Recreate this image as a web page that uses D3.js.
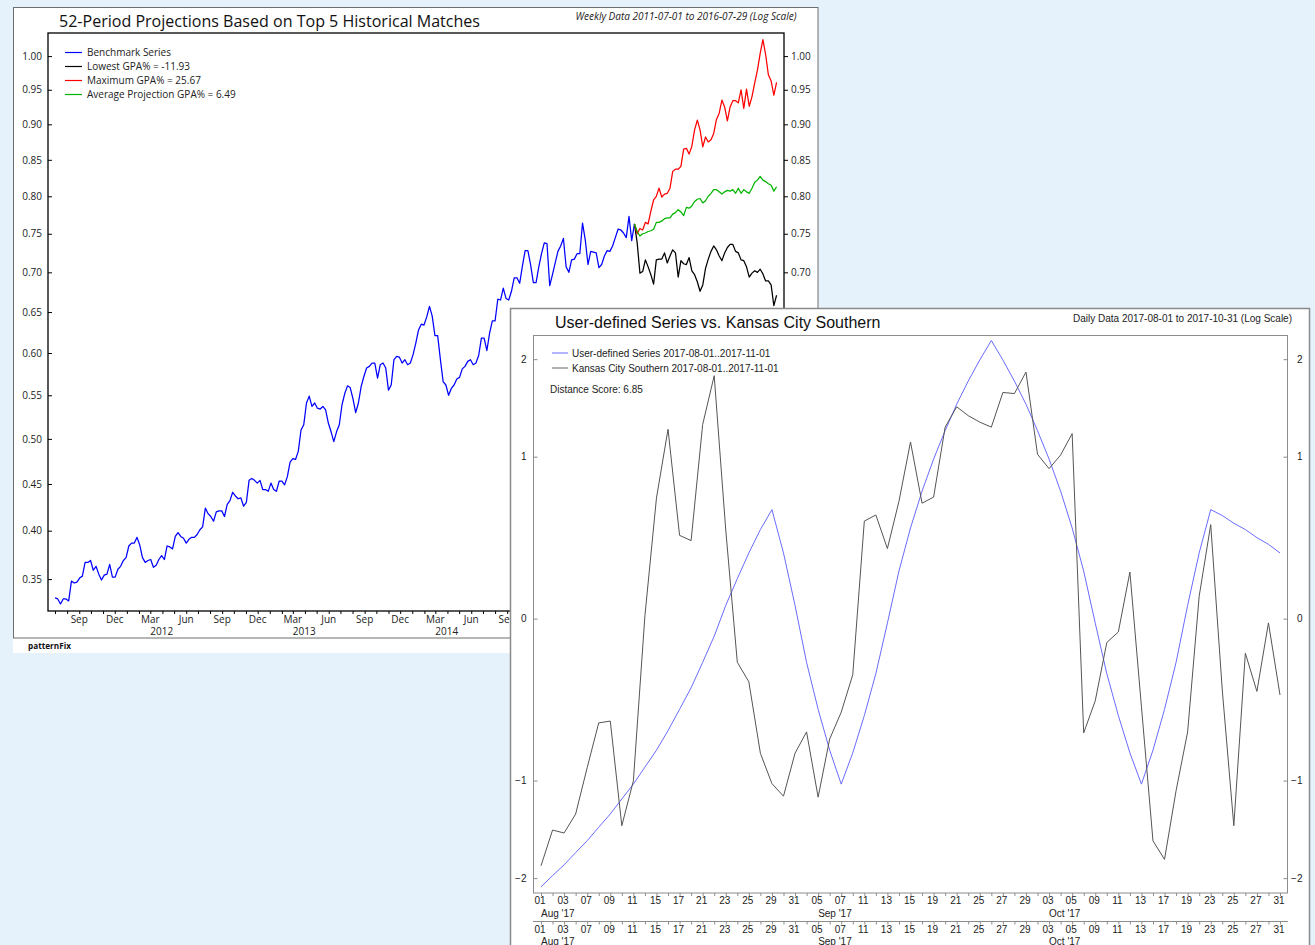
<!DOCTYPE html>
<html>
<head>
<meta charset="utf-8">
<script src="https://cdnjs.cloudflare.com/ajax/libs/d3/7.8.5/d3.min.js"></script>
<style>
  body { margin: 0; background: #e6f2fb; }
  svg { display: block; }
</style>
</head>
<body>
<svg id="chart" width="1315" height="945"></svg>
<script>
// weekly benchmark, first point 2011-07-01
const benchStart = '2011-07-01';
const benchmark = [
  0.331, 0.330, 0.325, 0.330, 0.330, 0.328, 0.348, 0.346, 0.347, 0.351,
  0.353, 0.367, 0.367, 0.369, 0.359, 0.363, 0.355, 0.349, 0.354, 0.355,
  0.365, 0.352, 0.352, 0.360, 0.363, 0.369, 0.372, 0.384, 0.387, 0.387,
  0.393, 0.385, 0.372, 0.367, 0.369, 0.370, 0.362, 0.364, 0.370, 0.374,
  0.370, 0.384, 0.383, 0.381, 0.394, 0.398, 0.394, 0.392, 0.387, 0.391,
  0.393, 0.393, 0.396, 0.401, 0.404, 0.424, 0.418, 0.415, 0.410, 0.420,
  0.421, 0.421, 0.415, 0.428, 0.432, 0.441, 0.437, 0.434, 0.435, 0.426,
  0.430, 0.454, 0.456, 0.454, 0.451, 0.454, 0.444, 0.444, 0.442, 0.451,
  0.444, 0.442, 0.453, 0.453, 0.449, 0.458, 0.474, 0.478, 0.477, 0.486,
  0.510, 0.516, 0.541, 0.549, 0.537, 0.541, 0.535, 0.534, 0.537, 0.533,
  0.518, 0.508, 0.497, 0.508, 0.516, 0.539, 0.552, 0.561, 0.559, 0.546,
  0.530, 0.541, 0.560, 0.572, 0.582, 0.584, 0.588, 0.588, 0.570, 0.586,
  0.588, 0.582, 0.556, 0.562, 0.592, 0.596, 0.595, 0.588, 0.592, 0.586,
  0.588, 0.598, 0.612, 0.628, 0.635, 0.634, 0.644, 0.657, 0.645, 0.621,
  0.621, 0.592, 0.566, 0.562, 0.550, 0.558, 0.562, 0.569, 0.571, 0.581,
  0.584, 0.590, 0.592, 0.586, 0.588, 0.597, 0.618, 0.618, 0.603, 0.624,
  0.639, 0.639, 0.666, 0.665, 0.680, 0.667, 0.665, 0.676, 0.693, 0.693,
  0.686, 0.708, 0.728, 0.728, 0.710, 0.687, 0.687, 0.707, 0.724, 0.738,
  0.737, 0.683, 0.697, 0.712, 0.727, 0.734, 0.744, 0.707, 0.700, 0.716,
  0.717, 0.724, 0.724, 0.764, 0.742, 0.710, 0.727, 0.726, 0.725, 0.706,
  0.710, 0.721, 0.728, 0.727, 0.734, 0.745, 0.756, 0.755, 0.751, 0.745,
  0.773, 0.741, 0.763
];
// 52 weekly projections after the last benchmark week
const lowest = [
  0.738, 0.699, 0.701, 0.716, 0.707, 0.697, 0.685, 0.716, 0.717, 0.717,
  0.725, 0.712, 0.721, 0.729, 0.725, 0.694, 0.715, 0.711, 0.710, 0.719,
  0.702, 0.697, 0.688, 0.676, 0.684, 0.705, 0.717, 0.727, 0.734, 0.729,
  0.721, 0.715, 0.725, 0.732, 0.736, 0.736, 0.727, 0.725, 0.716, 0.715,
  0.707, 0.694, 0.699, 0.702, 0.700, 0.704, 0.698, 0.689, 0.689, 0.684,
  0.658, 0.671
];
const maximum = [
  0.750, 0.757, 0.755, 0.765, 0.763, 0.780, 0.795, 0.800, 0.811, 0.799,
  0.803, 0.804, 0.811, 0.834, 0.837, 0.837, 0.841, 0.865, 0.866, 0.858,
  0.869, 0.892, 0.906, 0.892, 0.868, 0.882, 0.875, 0.878, 0.887, 0.907,
  0.916, 0.935, 0.925, 0.905, 0.925, 0.934, 0.934, 0.931, 0.950, 0.923,
  0.951, 0.926, 0.940, 0.960, 0.979, 1.004, 1.025, 1.002, 0.972, 0.963,
  0.942, 0.961
];
const average = [
  0.753, 0.747, 0.750, 0.751, 0.753, 0.754, 0.756, 0.765, 0.765, 0.767,
  0.770, 0.771, 0.771, 0.776, 0.778, 0.782, 0.779, 0.774, 0.785, 0.784,
  0.787, 0.793, 0.796, 0.797, 0.791, 0.794, 0.800, 0.804, 0.809, 0.809,
  0.806, 0.803, 0.806, 0.808, 0.807, 0.809, 0.804, 0.811, 0.804, 0.809,
  0.806, 0.804, 0.811, 0.819, 0.822, 0.827, 0.822, 0.820, 0.817, 0.815,
  0.807, 0.813
];
const legend1Labels = ['Benchmark Series', 'Lowest GPA% = -11.93', 'Maximum GPA% = 25.67', 'Average Projection GPA% = 6.49'];
const legend1Colors = ['#0000ff', '#000000', '#ff0000', '#00b400'];
const yTicks1 = [0.35, 0.40, 0.45, 0.50, 0.55, 0.60, 0.65, 0.70, 0.75, 0.80, 0.85, 0.90, 0.95, 1.00];

// daily trading days for the second chart
const tradingDays = [
  '2017-08-01', '2017-08-02', '2017-08-03', '2017-08-04', '2017-08-07', '2017-08-08', '2017-08-09',
  '2017-08-10', '2017-08-11', '2017-08-14', '2017-08-15', '2017-08-16', '2017-08-17', '2017-08-18',
  '2017-08-21', '2017-08-22', '2017-08-23', '2017-08-24', '2017-08-25', '2017-08-28', '2017-08-29',
  '2017-08-30', '2017-08-31', '2017-09-01', '2017-09-05', '2017-09-06', '2017-09-07', '2017-09-08',
  '2017-09-11', '2017-09-12', '2017-09-13', '2017-09-14', '2017-09-15', '2017-09-18', '2017-09-19',
  '2017-09-20', '2017-09-21', '2017-09-22', '2017-09-25', '2017-09-26', '2017-09-27', '2017-09-28',
  '2017-09-29', '2017-10-02', '2017-10-03', '2017-10-04', '2017-10-05', '2017-10-06', '2017-10-09',
  '2017-10-10', '2017-10-11', '2017-10-12', '2017-10-13', '2017-10-16', '2017-10-17', '2017-10-18',
  '2017-10-19', '2017-10-20', '2017-10-23', '2017-10-24', '2017-10-25', '2017-10-26', '2017-10-27',
  '2017-10-30', '2017-10-31'
];
const userSeries = [
  -2.11, -1.97, -1.84, -1.70, -1.57, -1.43, -1.30, -1.16, -1.03, -0.89,
  -0.76, -0.62, -0.48, -0.35, -0.21, -0.08, 0.06, 0.19, 0.33, 0.47,
  0.60, 0.33, 0.06, -0.21, -0.48, -0.76, -1.03, -0.78, -0.52, -0.27,
  -0.02, 0.23, 0.48, 0.73, 0.98, 1.23, 1.49, 1.74, 1.99, 2.24,
  1.99, 1.74, 1.49, 1.23, 0.98, 0.73, 0.48, 0.23, -0.02, -0.27,
  -0.52, -0.78, -1.03, -0.76, -0.48, -0.21, 0.06, 0.33, 0.60, 0.56,
  0.51, 0.47, 0.42, 0.38, 0.33
];
const ksuSeries = [
  -1.851, -1.459, -1.489, -1.300, -0.894, -0.568, -0.556, -1.415, -1.002, 0.013,
  0.681, 1.243, 0.434, 0.402, 1.287, 1.802, 0.467, -0.209, -0.316, -0.783,
  -1.026, -1.135, -0.783, -0.629, -1.144, -0.679, -0.498, -0.276, 0.524, 0.564,
  0.355, 0.657, 1.127, 0.644, 0.687, 1.263, 1.463, 1.374, 1.311, 1.263,
  1.614, 1.602, 1.844, 1.020, 0.902, 1.014, 1.203, -0.636, -0.427, -0.110,
  -0.060, 0.225, -0.464, -1.571, -1.777, -1.087, -0.629, 0.103, 0.501, -0.363,
  -1.415, -0.163, -0.371, -0.019, -0.392
];
const legend2Labels = ['User-defined Series 2017-08-01..2017-11-01', 'Kansas City Southern 2017-08-01..2017-11-01'];
const legend2Colors = ['#6b6bff', '#666666'];
const yTicks2 = [-2, -1, 0, 1, 2];

const font1 = "'Open Sans', 'Noto Sans', sans-serif";
const font2 = "'Liberation Sans', Arial, sans-serif";
const parseDate = d3.timeParse('%Y-%m-%d');
const svg = d3.select('#chart');

// the second panel sits on top of the first one from here
const panel2 = { x: 510, y: 308 };

// ---------- chart 1 : projections ----------
const x1 = d3.scaleTime()
  .domain([parseDate('2011-06-13'), parseDate('2016-08-10')])
  .range([48, 784]);
const y1 = d3.scaleSymlog().constant(1).domain([0.318, 1.035]).range([611, 33]);

const start = parseDate(benchStart);
const benchPts = benchmark.map((v, i) => ({ date: d3.timeDay.offset(start, 7 * i), value: v }));
const last = benchPts[benchPts.length - 1];
const projPts = arr => [last].concat(arr.map((v, i) => ({ date: d3.timeDay.offset(last.date, 7 * (i + 1)), value: v })));

const c1 = svg.append('g').attr('class', 'chart1');

c1.append('rect')
  .attr('x', 13).attr('y', 7).attr('width', 805).attr('height', 646)
  .attr('fill', '#ffffff');
c1.append('rect')
  .attr('x', 13.5).attr('y', 7.5).attr('width', 804.5).attr('height', 630.5)
  .attr('fill', 'none').attr('stroke', '#6e6e6e').attr('stroke-width', 1);

c1.append('text')
  .attr('x', 59).attr('y', 27)
  .attr('font-family', font1).attr('font-size', 16)
  .attr('textLength', 421).attr('lengthAdjust', 'spacingAndGlyphs')
  .attr('fill', '#111')
  .text('52-Period Projections Based on Top 5 Historical Matches');

c1.append('text')
  .attr('x', 796.5).attr('y', 19.5)
  .attr('text-anchor', 'end')
  .attr('font-family', font1).attr('font-size', 10).attr('font-style', 'italic')
  .attr('fill', '#222')
  .text('Weekly Data 2011-07-01 to 2016-07-29 (Log Scale)');

const line1 = d3.line()
  .x(function(d) { return x1(d.date); })
  .y(function(d) { return y1(d.value); });

const series1 = [
  { pts: benchPts, color: legend1Colors[0] },
  { pts: projPts(lowest), color: legend1Colors[1] },
  { pts: projPts(maximum), color: legend1Colors[2] },
  { pts: projPts(average), color: legend1Colors[3] }
];

c1.selectAll('.series')
  .data(series1)
  .enter().append('path')
  .attr('class', 'series')
  .attr('fill', 'none')
  .attr('stroke', d => d.color)
  .attr('stroke-width', 1.25)
  .attr('stroke-linejoin', 'round')
  .attr('d', d => line1(d.pts));

c1.append('rect')
  .attr('x', 48).attr('y', 33).attr('width', 736).attr('height', 578)
  .attr('fill', 'none').attr('stroke', '#000').attr('stroke-width', 1.3);

const yLeft1 = c1.append('g')
  .attr('transform', 'translate(48,0)')
  .call(d3.axisLeft(y1).tickValues(yTicks1).tickFormat(d3.format('.2f')).tickSize(-4).tickPadding(6));
// labels lower down on the right are covered by the second panel
const yRight1 = c1.append('g')
  .attr('transform', 'translate(784,0)')
  .call(d3.axisRight(y1).tickValues(yTicks1.filter(v => y1(v) < panel2.y - 4))
    .tickFormat(d3.format('.2f')).tickSize(4).tickPadding(3));

const months = d3.timeMonth.range(x1.domain()[0], x1.domain()[1]);
const xAxis1 = c1.append('g')
  .attr('transform', 'translate(0,611)')
  .call(d3.axisBottom(x1).tickValues(months).tickSize(3).tickFormat(''));

[yLeft1, yRight1, xAxis1].forEach(function(g) {
  g.select('.domain').remove();
  g.selectAll('line').attr('stroke', '#000');
  g.selectAll('text').attr('font-family', font1).attr('font-size', 10).attr('fill', '#222');
});

const visible = d => x1(d) < panel2.x;
const quarters = months.filter(d => [2, 5, 8, 11].includes(d.getMonth()) && visible(d));
c1.selectAll('.mlabel')
  .data(quarters)
  .enter().append('text')
  .attr('class', 'mlabel')
  .attr('x', d => x1(d)).attr('y', 622.5)
  .attr('text-anchor', 'middle')
  .attr('font-family', font1).attr('font-size', 10).attr('fill', '#222')
  .text(d3.timeFormat('%b'));

c1.selectAll('.ylabel')
  .data(months.filter(d => d.getMonth() === 2 && visible(d)))
  .enter().append('text')
  .attr('class', 'ylabel')
  .attr('x', d => x1(d)).attr('y', 635)
  .attr('font-family', font1).attr('font-size', 10).attr('fill', '#222')
  .text(d3.timeFormat('%Y'));

const leg1 = c1.selectAll('.leg1')
  .data(legend1Labels)
  .enter().append('g')
  .attr('class', 'leg1')
  .attr('transform', (d, i) => 'translate(65,' + (52.5 + i * 14) + ')');
leg1.append('line')
  .attr('x1', 0).attr('x2', 17)
  .attr('stroke', (d, i) => legend1Colors[i]).attr('stroke-width', 1.2);
leg1.append('text')
  .attr('x', 22).attr('y', 3.6)
  .attr('font-family', font1).attr('font-size', 10).attr('fill', '#222')
  .text(d => d);

c1.append('text')
  .attr('x', 28).attr('y', 648.5)
  .attr('font-family', font1).attr('font-size', 8.2).attr('font-weight', 'bold')
  .attr('fill', '#111')
  .text('patternFix');

// ---------- chart 2 : user-defined vs KSU ----------
const x2 = d3.scalePoint().domain(tradingDays).range([541, 1280]);
const y2 = d3.scaleSymlog().constant(1.1).domain([-2.19, 2.314]).range([893, 335]);

const c2 = svg.append('g').attr('class', 'chart2');

c2.append('rect')
  .attr('x', panel2.x + 0.5).attr('y', panel2.y + 0.5).attr('width', 799).attr('height', 660)
  .attr('fill', '#ffffff').attr('stroke', '#8a8a8a').attr('stroke-width', 1.5);

c2.append('text')
  .attr('x', 555).attr('y', 328)
  .attr('font-family', font2).attr('font-size', 16).attr('fill', '#111')
  .text('User-defined Series vs. Kansas City Southern');

c2.append('text')
  .attr('x', 1292).attr('y', 322)
  .attr('text-anchor', 'end')
  .attr('font-family', font2).attr('font-size', 10).attr('fill', '#222')
  .text('Daily Data 2017-08-01 to 2017-10-31 (Log Scale)');

c2.append('rect')
  .attr('x', 533.5).attr('y', 335.5).attr('width', 754).attr('height', 557.5)
  .attr('fill', 'none').attr('stroke', '#8c8c8c').attr('stroke-width', 1);

const line2 = d3.line()
  .x(function(d, i) { return x2(tradingDays[i]); })
  .y(function(d) { return y2(d); });

c2.append('path')
  .datum(userSeries)
  .attr('fill', 'none').attr('stroke', legend2Colors[0]).attr('stroke-width', 1)
  .attr('d', line2);
c2.append('path')
  .datum(ksuSeries)
  .attr('fill', 'none').attr('stroke', '#555555').attr('stroke-width', 1)
  .attr('d', line2);

const yLeft2 = c2.append('g')
  .attr('transform', 'translate(533.5,0)')
  .call(d3.axisLeft(y2).tickValues(yTicks2).tickFormat(d3.format('d')).tickSize(-4).tickPadding(7));
const yRight2 = c2.append('g')
  .attr('transform', 'translate(1287.5,0)')
  .call(d3.axisRight(y2).tickValues(yTicks2).tickFormat(d3.format('d')).tickSize(-4).tickPadding(15));
yRight2.selectAll('text').attr('text-anchor', 'end');

const fmtDay = d3.timeFormat('%d');
const fmtMonth = d3.timeFormat("%b '%y");
const labelled = tradingDays.filter((d, i) => i % 2 === 0);
const monthStarts = labelled.filter((d, i) => i === 0 || d.slice(5, 7) !== labelled[i - 1].slice(5, 7));

[893, 921.5].forEach(function(y0, k) {
  const g = c2.append('g')
    .attr('transform', 'translate(0,' + y0 + ')')
    .call(d3.axisBottom(x2).tickValues(tradingDays).tickSize(3).tickFormat(''));
  g.select('.domain').remove();
  g.selectAll('line').attr('stroke', '#8c8c8c');
  if (k === 1) {
    g.append('line').attr('x1', 533).attr('x2', 1288).attr('stroke', '#8c8c8c');
  }
  g.selectAll('.dlabel')
    .data(labelled)
    .enter().append('text')
    .attr('class', 'dlabel')
    .attr('x', d => x2(d) - 1).attr('y', 11)
    .attr('text-anchor', 'middle')
    .attr('font-family', font2).attr('font-size', 10).attr('fill', '#222')
    .text(d => fmtDay(parseDate(d)));
  g.selectAll('.mlabel')
    .data(monthStarts)
    .enter().append('text')
    .attr('class', 'mlabel')
    .attr('x', d => x2(d)).attr('y', 23.5)
    .attr('text-anchor', 'start')
    .attr('font-family', font2).attr('font-size', 10).attr('fill', '#222')
    .text(d => fmtMonth(parseDate(d)));
});

[yLeft2, yRight2].forEach(function(g) {
  g.select('.domain').remove();
  g.selectAll('line').attr('stroke', '#8c8c8c');
  g.selectAll('text').attr('font-family', font2).attr('font-size', 10).attr('fill', '#222');
});

const leg2 = c2.selectAll('.leg2')
  .data(legend2Labels)
  .enter().append('g')
  .attr('class', 'leg2')
  .attr('transform', (d, i) => 'translate(552,' + (353 + i * 15) + ')');
leg2.append('line')
  .attr('x1', 0).attr('x2', 16)
  .attr('stroke', (d, i) => legend2Colors[i]).attr('stroke-width', 1);
leg2.append('text')
  .attr('x', 20).attr('y', 3.6)
  .attr('font-family', font2).attr('font-size', 10).attr('fill', '#222')
  .text(d => d);

c2.append('text')
  .attr('x', 550).attr('y', 392.5)
  .attr('font-family', font2).attr('font-size', 10).attr('fill', '#222')
  .text('Distance Score: 6.85');
</script>
</body>
</html>
